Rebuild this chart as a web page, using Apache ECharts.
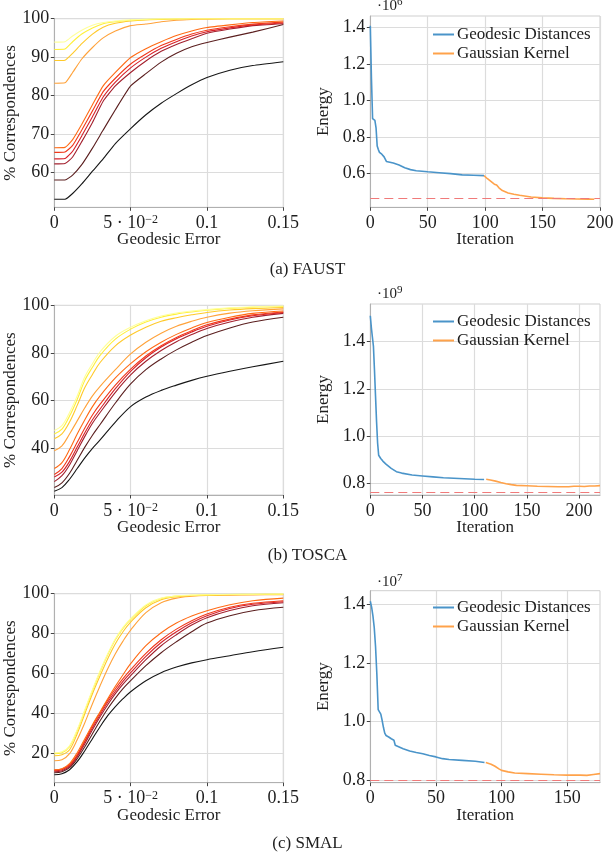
<!DOCTYPE html>
<html><head><meta charset="utf-8">
<script src="https://cdn.jsdelivr.net/npm/echarts@6/dist/echarts.min.js"></script>
<style>html,body{margin:0;padding:0;background:#fff}#c{width:615px;height:855px}</style>
</head><body><div id="c"></div>
<script>
// ---------------- DATA ----------------
// Left column: % correspondences vs geodesic error (10 methods each)
const faustX = [0, 0.007, 0.012, 0.018, 0.025, 0.032, 0.04, 0.05, 0.06, 0.07, 0.08, 0.09, 0.1, 0.115, 0.13, 0.15];
const faustCurves = [
  [53.0, 53.0, 54.5, 57.0, 60.3, 63.5, 67.5, 71.4, 75.0, 78.0, 80.5, 82.8, 84.7, 86.6, 87.8, 88.8],
  [58.0, 58.0, 59.3, 62.0, 66.3, 71.0, 76.3, 82.5, 85.7, 88.7, 91.0, 92.7, 93.8, 95.2, 96.5, 98.5],
  [62.2, 62.3, 64.0, 68.0, 73.0, 78.5, 82.5, 86.0, 89.0, 91.5, 93.3, 94.8, 96.2, 97.3, 98.2, 98.7],
  [63.5, 63.6, 65.5, 69.5, 74.5, 79.6, 83.5, 87.2, 90.0, 92.3, 94.0, 95.5, 96.6, 97.6, 98.4, 98.9],
  [65.2, 65.3, 67.0, 71.0, 76.0, 81.0, 84.5, 88.2, 90.8, 93.0, 94.6, 96.0, 97.0, 97.9, 98.6, 99.1],
  [66.4, 66.5, 68.5, 72.5, 77.6, 82.5, 86.0, 89.9, 92.2, 94.0, 95.6, 96.8, 97.7, 98.4, 99.0, 99.4],
  [83.2, 83.3, 86.0, 89.5, 92.5, 95.0, 96.8, 98.2, 98.6, 99.2, 99.6, 99.8, 99.9, 100, 100, 100],
  [89.1, 89.2, 91.0, 93.5, 96.0, 97.8, 98.8, 99.4, 99.7, 99.8, 99.9, 100, 100, 100, 100, 100],
  [92.0, 92.1, 94.0, 96.0, 97.6, 98.7, 99.2, 99.6, 99.8, 99.9, 100, 100, 100, 100, 100, 100],
  [93.9, 94.0, 95.5, 97.0, 98.3, 99.0, 99.4, 99.7, 99.9, 100, 100, 100, 100, 100, 100, 100]
];
const toscaX = [0, 0.005, 0.01, 0.015, 0.02, 0.025, 0.03, 0.04, 0.05, 0.06, 0.07, 0.08, 0.09, 0.1, 0.115, 0.13, 0.15];
const toscaCurves = [
  [22.0, 23.5, 27.0, 31.5, 36.0, 40.0, 43.5, 51.0, 57.5, 61.5, 64.3, 66.5, 68.5, 70.2, 72.3, 74.2, 76.5],
  [23.5, 25.5, 29.5, 35.0, 40.5, 45.5, 50.0, 59.0, 67.0, 73.0, 77.5, 81.3, 84.5, 87.3, 90.5, 93.0, 95.0],
  [26.0, 28.5, 33.0, 39.0, 45.0, 50.5, 55.0, 63.5, 70.8, 76.5, 81.0, 84.7, 87.7, 90.3, 93.0, 95.0, 96.6],
  [28.0, 30.0, 34.5, 40.5, 46.5, 52.0, 56.5, 65.0, 72.3, 78.0, 82.5, 86.0, 88.8, 91.2, 93.8, 95.6, 97.0],
  [29.0, 31.5, 36.5, 42.5, 48.5, 54.0, 58.5, 66.5, 73.2, 78.7, 83.0, 86.5, 89.3, 91.8, 94.2, 96.0, 97.2],
  [31.5, 34.0, 39.5, 46.0, 52.0, 57.5, 62.0, 69.5, 75.5, 80.5, 84.5, 87.8, 90.5, 92.8, 95.0, 96.6, 97.6],
  [39.0, 41.0, 46.0, 51.5, 57.0, 62.0, 66.0, 73.0, 79.6, 84.5, 88.3, 91.2, 93.3, 95.0, 96.7, 97.7, 98.5],
  [44.0, 46.0, 51.0, 58.0, 65.5, 71.0, 76.0, 83.0, 87.5, 90.8, 93.3, 94.8, 96.0, 97.0, 98.0, 98.6, 99.1],
  [46.0, 48.0, 53.5, 60.5, 68.5, 74.0, 79.0, 85.8, 90.0, 93.0, 95.0, 96.3, 97.2, 97.9, 98.7, 99.2, 99.5],
  [47.5, 49.5, 55.0, 62.0, 70.0, 75.5, 80.5, 87.0, 90.8, 93.5, 95.5, 96.8, 97.6, 98.2, 98.9, 99.4, 99.7]
];
const smalX = [0, 0.005, 0.01, 0.015, 0.02, 0.025, 0.03, 0.035, 0.04, 0.045, 0.05, 0.06, 0.07, 0.08, 0.09, 0.1, 0.115, 0.13, 0.15];
const smalCurves = [
  [9.5, 10.0, 12.0, 16.0, 21.5, 27.5, 33.5, 39.0, 43.5, 47.5, 51.0, 56.5, 60.5, 63.3, 65.4, 67.0, 69.0, 71.0, 73.2],
  [10.5, 11.0, 13.0, 17.5, 23.5, 30.0, 36.5, 42.5, 47.8, 52.5, 56.5, 64.0, 70.5, 76.0, 81.0, 85.3, 89.0, 91.5, 93.2],
  [11.0, 11.5, 13.5, 18.5, 25.0, 32.0, 38.5, 44.5, 50.0, 54.8, 59.0, 67.0, 74.0, 79.5, 84.3, 88.0, 91.6, 94.0, 95.5],
  [11.5, 12.0, 14.0, 19.0, 26.0, 33.0, 39.5, 45.7, 51.2, 56.2, 60.5, 68.7, 75.6, 81.0, 85.5, 89.0, 92.6, 94.7, 96.0],
  [11.8, 12.3, 14.5, 19.5, 26.5, 34.0, 40.5, 46.8, 52.5, 57.5, 62.0, 70.2, 77.0, 82.3, 86.5, 89.8, 93.2, 95.2, 96.5],
  [12.0, 12.5, 15.0, 20.5, 27.5, 34.5, 41.0, 47.5, 53.7, 59.5, 65.0, 74.0, 80.5, 85.3, 88.8, 91.5, 94.5, 96.5, 97.8],
  [16.5, 17.0, 20.0, 27.0, 35.5, 45.0, 54.0, 62.5, 70.0, 76.3, 81.8, 90.5, 95.5, 97.8, 98.7, 99.1, 99.3, 99.4, 99.5],
  [19.0, 19.5, 22.0, 30.0, 40.0, 50.0, 59.0, 67.5, 75.0, 81.0, 85.8, 93.0, 97.0, 98.5, 99.0, 99.3, 99.5, 99.6, 99.7],
  [20.0, 20.5, 23.5, 31.5, 41.5, 51.5, 61.0, 69.5, 77.0, 82.7, 87.0, 94.0, 97.6, 98.8, 99.2, 99.4, 99.6, 99.7, 99.8],
  [20.5, 21.0, 24.0, 32.0, 42.0, 52.0, 61.5, 70.0, 77.5, 83.2, 87.5, 94.4, 97.8, 98.9, 99.3, 99.5, 99.7, 99.8, 99.9]
];
const leftXTicks = [0, 0.05, 0.1, 0.15];
const faustYTicks = [60, 70, 80, 90, 100];
const toscaYTicks = [40, 60, 80, 100];
const smalYTicks = [20, 40, 60, 80, 100];

// Right column: energy vs iteration (values in units of 10^exp)
const faustGeoIter = [0, 1, 2, 3, 4, 5, 6, 7, 8, 10, 12, 14, 20, 25, 30, 35, 40, 50, 60, 70, 80, 90, 99];
const faustGeoE = [1.41, 1.12, 0.90, 0.895, 0.89, 0.85, 0.75, 0.73, 0.715, 0.705, 0.69, 0.665, 0.656, 0.645, 0.63, 0.62, 0.614, 0.608, 0.603, 0.598, 0.591, 0.589, 0.587];
const faustGauIter = [99, 102, 105, 108, 110, 112, 115, 120, 125, 130, 140, 150, 160, 170, 180, 190, 195];
const faustGauE = [0.587, 0.57, 0.555, 0.54, 0.535, 0.52, 0.505, 0.492, 0.485, 0.479, 0.47, 0.465, 0.462, 0.46, 0.459, 0.458, 0.457];
const faustRef = 0.457;

const toscaGeoIter = [0, 1, 2, 3, 4, 5, 6, 7, 8, 10, 12, 15, 20, 25, 30, 40, 50, 60, 70, 80, 90, 100, 109];
const toscaGeoE = [1.51, 1.46, 1.42, 1.38, 1.28, 1.17, 1.06, 0.97, 0.918, 0.904, 0.893, 0.88, 0.862, 0.848, 0.842, 0.834, 0.83, 0.826, 0.822, 0.82, 0.818, 0.816, 0.815];
const toscaGauIter = [111, 115, 120, 125, 130, 135, 140, 150, 160, 170, 180, 190, 195, 200, 205, 210, 215, 220];
const toscaGauE = [0.816, 0.813, 0.808, 0.802, 0.797, 0.793, 0.79, 0.788, 0.786, 0.785, 0.784, 0.784, 0.786, 0.786, 0.785, 0.787, 0.787, 0.789];
const toscaRef = 0.762;

const smalGeoIter = [0, 1, 2, 3, 4, 5, 6, 7, 8, 9, 10, 11, 12, 14, 16, 18, 19, 20, 25, 30, 35, 40, 45, 50, 55, 60, 70, 80, 87];
const smalGeoE = [1.41, 1.39, 1.36, 1.32, 1.255, 1.16, 1.04, 1.035, 1.025, 1.004, 0.98, 0.96, 0.952, 0.947, 0.941, 0.936, 0.919, 0.913, 0.907, 0.899, 0.894, 0.89, 0.884, 0.879, 0.873, 0.87, 0.867, 0.864, 0.86];
const smalGauIter = [88, 92, 95, 98, 100, 105, 110, 120, 130, 140, 150, 160, 165, 170, 175];
const smalGauE = [0.86, 0.854, 0.847, 0.838, 0.833, 0.828, 0.824, 0.822, 0.82, 0.818, 0.817, 0.817, 0.816, 0.819, 0.822];
const smalRef = 0.799;

const faustEXTicks = [0, 50, 100, 150, 200];
const toscaEXTicks = [0, 50, 100, 150, 200];
const smalEXTicks = [0, 50, 100, 150];
const faustEYTicks = [0.6, 0.8, 1.0, 1.2, 1.4];
const toscaEYTicks = [0.8, 1.0, 1.2, 1.4];
const smalEYTicks = [0.8, 1.0, 1.2, 1.4];
const exponents = ['6', '9', '7'];
const captions = ['(a) FAUST', '(b) TOSCA', '(c) SMAL'];
const legendNames = ['Geodesic Distances', 'Gaussian Kernel'];

// ---------------- STYLE / LAYOUT ----------------
const FONT = "'Liberation Serif', 'DejaVu Serif', serif";
const TXT = '#1e1e1e';
const hotColors = ['#161616', '#5b1f1f', '#a3202e', '#d6202a', '#f0381a', '#ff6a14', '#ffa23a', '#ffc92a', '#fff03a', '#ffff9a'];
const BLUE = '#4a94c9', ORANGE = '#ffa24a', REFC = '#f07a7a';
const leftLayout = [{top: 18.7, height: 188.6, ymin: 50.9, ymax: 100},
                    {top: 305.3, height: 189.7, ymin: 20.4, ymax: 100},
                    {top: 593.7, height: 189, ymin: 5.5, ymax: 100}];
const rightLayout = [{top: 16, height: 191.3, ymin: 0.413, ymax: 1.464, xmax: 200},
                     {top: 304, height: 191, ymin: 0.749, ymax: 1.56, xmax: 220},
                     {top: 590.7, height: 192, ymin: 0.791, ymax: 1.446, xmax: 175}];
const captionY = [256, 542, 830];
const legendTop = [21, 308, 594];

const leftSets = [[faustX, faustCurves, faustYTicks], [toscaX, toscaCurves, toscaYTicks], [smalX, smalCurves, smalYTicks]];
const rightSets = [
  [faustGeoIter, faustGeoE, faustGauIter, faustGauE, faustRef, faustEXTicks, faustEYTicks],
  [toscaGeoIter, toscaGeoE, toscaGauIter, toscaGauE, toscaRef, toscaEXTicks, toscaEYTicks],
  [smalGeoIter, smalGeoE, smalGauIter, smalGauE, smalRef, smalEXTicks, smalEYTicks]
];

const grid = [], xAxis = [], yAxis = [], series = [], legend = [], graphic = [], title = [];
const axisCommon = {
  axisLine: {show: true, lineStyle: {color: '#b0b0b0', width: 1}},
  axisTick: {show: true, length: 3.5, inside: false, lineStyle: {color: '#444', width: 1}},
  splitLine: {show: true, lineStyle: {color: '#dcdcdc', width: 1.2}},
  nameTextStyle: {fontFamily: FONT, fontSize: 17, color: TXT},
  nameMoveOverlap: false
};
const labelStyle = {fontFamily: FONT, fontSize: 18, color: TXT};

function xLabelFmt(v) {
  if (Math.abs(v - 0.05) < 1e-9) return '{n|5 · 10}{s|−2}';
  if (Math.abs(v) < 1e-9) return '{n|0}';
  return '{n|' + (+v.toFixed(2)) + '}';
}

for (let i = 0; i < 3; i++) {
  // left grid
  const L = leftLayout[i];
  const gi = grid.length;
  grid.push({left: 54.3, top: L.top, width: 229, height: L.height, show: true, borderColor: '#cfcfcf', borderWidth: 1, containLabel: false, outerBoundsMode: 'none'});
  const [xs, curves, yt] = leftSets[i];
  xAxis.push(Object.assign({}, axisCommon, {
    gridIndex: gi, type: 'value', min: 0, max: 0.15,
    axisTick: Object.assign({}, axisCommon.axisTick, {customValues: leftXTicks}),
    axisLabel: {customValues: leftXTicks, margin: 7, formatter: xLabelFmt,
      rich: {n: labelStyle, s: {fontFamily: FONT, fontSize: 12, color: TXT, verticalAlign: 'top', padding: [0, 0, 6, 0]}}},
    name: 'Geodesic Error', nameLocation: 'middle', nameGap: 24
  }));
  yAxis.push(Object.assign({}, axisCommon, {
    gridIndex: gi, type: 'value', min: L.ymin, max: L.ymax,
    axisTick: Object.assign({}, axisCommon.axisTick, {customValues: yt}),
    axisLabel: Object.assign({customValues: yt, margin: 5, formatter: v => String(Math.round(v))}, labelStyle),
    name: '% Correspondences', nameLocation: 'middle', nameGap: 35
  }));
  curves.forEach((ys, k) => {
    series.push({
      type: 'line', xAxisIndex: gi, yAxisIndex: gi, showSymbol: false, symbol: 'none',
      smooth: i === 0 ? 0.15 : 0.35, z: 2 + k,
      lineStyle: {color: hotColors[k], width: 1.1}, itemStyle: {color: hotColors[k]},
      data: xs.map((x, j) => [x, ys[j]]), silent: true
    });
  });

  // right grid
  const R = rightLayout[i];
  const gr = grid.length;
  const [gIt, gE, kIt, kE, ref, xt, et] = rightSets[i];
  grid.push({left: 370.3, top: R.top, width: 229.7, height: R.height, show: true, borderColor: '#cfcfcf', borderWidth: 1, containLabel: false, outerBoundsMode: 'none'});
  xAxis.push(Object.assign({}, axisCommon, {
    gridIndex: gr, type: 'value', min: 0, max: R.xmax,
    axisTick: Object.assign({}, axisCommon.axisTick, {customValues: xt}),
    axisLabel: Object.assign({customValues: xt, margin: 7}, labelStyle),
    name: 'Iteration', nameLocation: 'middle', nameGap: 24
  }));
  yAxis.push(Object.assign({}, axisCommon, {
    gridIndex: gr, type: 'value', min: R.ymin, max: R.ymax,
    axisTick: Object.assign({}, axisCommon.axisTick, {customValues: et}),
    axisLabel: Object.assign({customValues: et, margin: 5, formatter: v => (+v).toFixed(1)}, labelStyle),
    name: 'Energy', nameLocation: 'middle', nameGap: 38
  }));
  series.push({
    name: legendNames[0], type: 'line', xAxisIndex: gr, yAxisIndex: gr, showSymbol: false, symbol: 'none',
    lineStyle: {color: BLUE, width: 1.6}, itemStyle: {color: BLUE}, z: 3,
    data: gIt.map((x, j) => [x, gE[j]])
  });
  series.push({
    name: legendNames[1], type: 'line', xAxisIndex: gr, yAxisIndex: gr, showSymbol: false, symbol: 'none',
    lineStyle: {color: ORANGE, width: 1.6}, itemStyle: {color: ORANGE}, z: 3,
    data: kIt.map((x, j) => [x, kE[j]]),
    markLine: {silent: true, symbol: 'none', label: {show: false}, animation: false,
      lineStyle: {color: REFC, type: [9, 5], width: 1.2}, data: [{yAxis: ref}]}
  });
  legend.push({
    data: legendNames, orient: 'vertical', left: 428, top: legendTop[i],
    icon: 'rect', itemWidth: 21, itemHeight: 2, itemGap: 2,
    textStyle: {fontFamily: FONT, fontSize: 17, color: TXT, padding: [0, 0, 0, -2]},
    selectedMode: false
  });
  graphic.push({
    type: 'text', left: 377, top: [-3, 285, 573][i],
    style: {rich: {b: {fontFamily: FONT, fontSize: 15, fill: TXT, lineHeight: 18}, s: {fontFamily: FONT, fontSize: 11, fill: TXT, lineHeight: 18, verticalAlign: 'top'}},
            text: '{b|·10}{s|' + exponents[i] + '}'}
  });
  title.push({text: captions[i], left: 'center', top: captionY[i], textStyle: {fontFamily: FONT, fontSize: 17, fontWeight: 'normal', color: TXT}});
}

const chart = echarts.init(document.getElementById('c'), null, {renderer: 'canvas'});
chart.setOption({animation: false, backgroundColor: '#fff', textStyle: {fontFamily: FONT}, grid, xAxis, yAxis, series, legend, graphic, title});
</script></body></html>
